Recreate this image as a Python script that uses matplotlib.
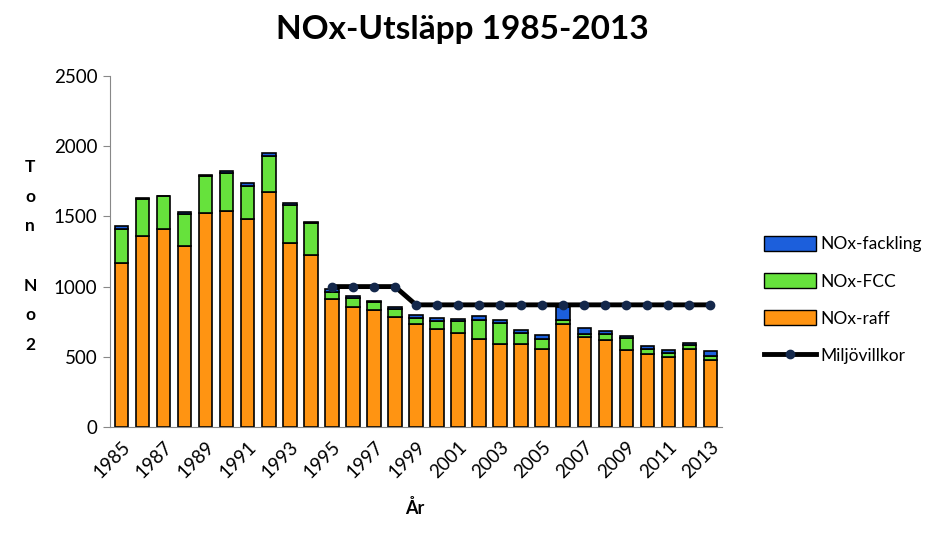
import numpy as np
import matplotlib
matplotlib.use("Agg")
from matplotlib import pyplot as plt
from matplotlib.patches import Patch
from matplotlib.lines import Line2D

plt.rcParams['font.family'] = ['Lato', 'DejaVu Sans']

years = list(range(1985, 2014))
raff = [1166, 1358, 1410, 1287, 1522, 1538, 1479, 1674, 1308, 1223,
        910, 853, 831, 781, 731, 696, 667, 625, 589, 589,
        553, 736, 639, 617, 546, 518, 496, 553, 475]
fcc = [246, 264, 233, 228, 264, 269, 235, 254, 271, 228,
       54, 68, 57, 57, 43, 59, 86, 135, 150, 78,
       72, 24, 21, 43, 86, 35, 29, 29, 28]
fackling = [18, 11, 4, 14, 7, 14, 24, 21, 14, 7,
            17, 10, 7, 15, 24, 19, 14, 28, 21, 21,
            28, 97, 43, 22, 14, 22, 21, 14, 36]
villkor_years = list(range(1995, 2014))
villkor = [1000, 1000, 1000, 1000] + [870] * 15

c_raff = '#FF9412'
c_fcc = '#66E23C'
c_fack = '#1C5FDC'

fig = plt.figure(figsize=(9.25, 5.38), dpi=100)
ax = fig.add_axes([110 / 925, (538 - 427) / 538, 612 / 925, 351 / 538])

x = np.array(years)
w = 0.64
raff_a = np.array(raff)
fcc_a = np.array(fcc)
ax.bar(x, raff, w, color=c_raff, edgecolor='black', linewidth=1.2, zorder=2)
ax.bar(x, fcc, w, bottom=raff_a, color=c_fcc, edgecolor='black', linewidth=1.2, zorder=2)
ax.bar(x, fackling, w, bottom=raff_a + fcc_a, color=c_fack, edgecolor='black', linewidth=1.2, zorder=2)
ax.plot(villkor_years, villkor, color='black', lw=3.5, marker='o', ms=6,
        mfc='#14284B', mec='#14284B', zorder=3)

ax.set_ylim(0, 2500)
ax.set_xlim(1984.45, 2013.55)
ax.set_yticks(range(0, 2501, 500))
ax.set_xticks(years[::2])
ax.set_xticklabels([str(y) for y in years[::2]], rotation=45, ha='right',
                   rotation_mode='anchor', fontsize=13.5)
ax.tick_params(axis='y', labelsize=13.5, length=5, color='#888888', pad=4)
ax.tick_params(axis='x', length=0, pad=8)
for s in ['top', 'right']:
    ax.spines[s].set_visible(False)
for s in ['left', 'bottom']:
    ax.spines[s].set_color('#888888')

fig.text(0.5, 1 - 30 / 538, 'NOx-Utsläpp 1985-2013', ha='center', va='center',
         fontsize=24, fontweight='bold')
fig.text(415 / 925, 1 - 508 / 538, 'År', ha='center', va='center',
         fontsize=13, fontweight='bold')
fig.text(30 / 925, 1 - 256 / 538, 'T\no\nn\n\nN\no\n2', ha='center', va='center',
         fontsize=12.5, fontweight='bold', linespacing=2.05)

handles = [Patch(facecolor=c_fack, edgecolor='black', label='NOx-fackling'),
           Patch(facecolor=c_fcc, edgecolor='black', label='NOx-FCC'),
           Patch(facecolor=c_raff, edgecolor='black', label='NOx-raff'),
           Line2D([0], [0], color='black', lw=3.5, marker='o', ms=6,
                  mfc='#14284B', mec='#14284B', label='Miljövillkor')]
fig.legend(handles=handles, loc='center left', bbox_to_anchor=(757 / 925, 1 - 300 / 538),
           frameon=False, fontsize=12.5, handlelength=3.0, handleheight=0.95,
           labelspacing=1.2, handletextpad=0.25, borderaxespad=0)

fig.savefig('out.png', dpi=100)
